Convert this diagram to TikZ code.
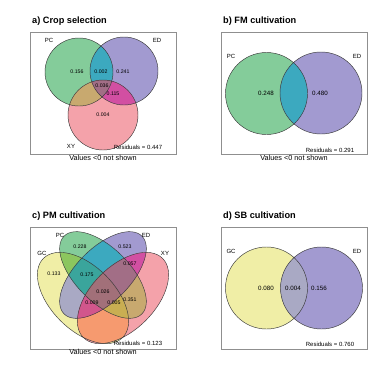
\documentclass[tikz,border=0pt]{standalone}
\usepackage{fontspec}
\setmainfont{Liberation Sans}
\usetikzlibrary{positioning}

\definecolor{pcgreen}{HTML}{84CC9A}
\definecolor{edpurple}{HTML}{A29AD0}
\definecolor{xypink}{HTML}{F4A2AA}
\definecolor{gcyellow}{HTML}{F0EEA6}
\definecolor{pcedteal}{HTML}{3CA9BF}
\definecolor{pcxytan}{HTML}{C8A96F}
\definecolor{edxymag}{HTML}{D24FA2}
\definecolor{pcedxymauve}{HTML}{A26E86}
\definecolor{gcedslate}{HTML}{A9A9C4}
\definecolor{gcpclime}{HTML}{8CC65E}
\definecolor{gcxyorange}{HTML}{F69A6F}
\definecolor{gcpcedteal}{HTML}{3AA59C}
\definecolor{gcpcxyolive}{HTML}{C9AE52}
\definecolor{gcedxypink}{HTML}{D2568C}
\definecolor{allfour}{HTML}{A27079}
\definecolor{boxgrey}{HTML}{8F8F8F}
\definecolor{rimgrey}{HTML}{3A3A3A}

% set shapes, one per panel
\newcommand\cropPC{(79,-72) circle [radius=34]}
\newcommand\cropED{(124,-71) circle [radius=34]}
\newcommand\cropXY{(103,-115) circle [radius=35]}
\newcommand\fmPC{(266.5,-93.5) circle [radius=41]}
\newcommand\fmED{(321,-93) circle [radius=41]}
\newcommand\pmGC{(83,-298) ellipse [x radius=56, y radius=32]}
\newcommand\pmPC{(103,-275) ellipse [x radius=55, y radius=27]}
\newcommand\pmED{(103,-275) ellipse [x radius=55, y radius=27]}
\newcommand\pmXY{(123,-298) ellipse [x radius=56, y radius=32]}
\newcommand\sbGC{(266.5,-288) circle [radius=41]}
\newcommand\sbED{(321.5,-288) circle [radius=41]}

\begin{document}
\begin{tikzpicture}[
				x=1pt, y=1pt,
				panelbox/.style={draw=boxgrey, line width=0.7pt},
				setrim/.style={draw=rimgrey, line width=0.45pt},
				gctilt/.style={rotate around={-45:(83,-298)}},
				pctilt/.style={rotate around={-45:(103,-275)}},
				edtilt/.style={rotate around={45:(103,-275)}},
				xytilt/.style={rotate around={45:(123,-298)}},
				paneltitle/.style={anchor=west, inner sep=0pt, font=\fontsize{9.2}{11}\selectfont\bfseries},
				setname/.style={inner sep=0pt, font=\fontsize{6}{7}\selectfont},
				smallval/.style={inner sep=0pt, font=\fontsize{5.2}{6}\selectfont},
				bigval/.style={inner sep=0pt, font=\fontsize{6.2}{7}\selectfont},
				resid/.style={inner sep=0pt, font=\fontsize{6}{7}\selectfont},
				note/.style={inner sep=0pt, font=\fontsize{7.3}{8}\selectfont},
			]
				\fill[white] (0,0) rectangle (382,-389);
				\useasboundingbox (0,0) rectangle (382,-389);

				% a) Crop selection
				\fill[pcgreen] \cropPC;
				\fill[edpurple] \cropED;
				\fill[xypink] \cropXY;
				\begin{scope}\clip \cropPC; \fill[pcedteal] \cropED; \end{scope}
				\begin{scope}\clip \cropPC; \fill[pcxytan] \cropXY; \end{scope}
				\begin{scope}\clip \cropED; \fill[edxymag] \cropXY; \end{scope}
				\begin{scope}\clip \cropPC; \clip \cropED; \fill[pcedxymauve] \cropXY; \end{scope}
				\draw[setrim] \cropPC \cropED \cropXY;
				\draw[panelbox] (30,-32) rectangle (176,-154);
				\node (aTitle) [paneltitle] at (32,-21) {a) Crop selection};
				\node (aPC) [setname] at (49,-40) {PC};
				\node (aED) [setname] at (157,-40) {ED};
				\node (aXY) [setname] at (71,-146) {XY};
				\node (aPConly) [smallval] at (77,-72) {0.156};
				\node (aPCED) [smallval] at (101,-72) {0.002};
				\node (aEDonly) [smallval] at (123,-72) {0.241};
				\node (aAll) [smallval] at (102,-86) {0.036};
				\node (aEDXY) [smallval] at (113,-94) {0.115};
				\node (aXYonly) [smallval] at (103,-115) {0.004};
				\node (aRes) [resid] at (138,-147) {Residuals = 0.447};
				\node (aNote) [note] at (103,-158) {Values <0 not shown};

				% b) FM cultivation
				\fill[pcgreen] \fmPC;
				\fill[edpurple] \fmED;
				\begin{scope}\clip \fmPC; \fill[pcedteal] \fmED; \end{scope}
				\draw[setrim] \fmPC \fmED;
				\draw[panelbox] (221,-32) rectangle (367,-154);
				\node (bTitle) [paneltitle] at (223,-21) {b) FM cultivation};
				\node (bPC) [setname] at (231,-56) {PC};
				\node (bED) [setname] at (357,-56) {ED};
				\node (bPConly) [bigval] at (266,-93) {0.248};
				\node (bEDonly) [bigval] at (320,-93) {0.480};
				\node (bRes) [resid] at (330,-150) {Residuals = 0.291};
				\node (bNote) [note] at (294,-158) {Values <0 not shown};

				% c) PM cultivation
				\fill[gcyellow, gctilt] \pmGC;
				\fill[pcgreen, pctilt] \pmPC;
				\fill[edpurple, edtilt] \pmED;
				\fill[xypink, xytilt] \pmXY;
				\begin{scope}\clip[gctilt] \pmGC; \fill[gcpclime, pctilt] \pmPC; \end{scope}
				\begin{scope}\clip[gctilt] \pmGC; \fill[gcedslate, edtilt] \pmED; \end{scope}
				\begin{scope}\clip[gctilt] \pmGC; \fill[gcxyorange, xytilt] \pmXY; \end{scope}
				\begin{scope}\clip[pctilt] \pmPC; \fill[pcedteal, edtilt] \pmED; \end{scope}
				\begin{scope}\clip[pctilt] \pmPC; \fill[pcxytan, xytilt] \pmXY; \end{scope}
				\begin{scope}\clip[edtilt] \pmED; \fill[edxymag, xytilt] \pmXY; \end{scope}
				\begin{scope}\clip[gctilt] \pmGC; \clip[pctilt] \pmPC; \fill[gcpcedteal, edtilt] \pmED; \end{scope}
				\begin{scope}\clip[gctilt] \pmGC; \clip[pctilt] \pmPC; \fill[gcpcxyolive, xytilt] \pmXY; \end{scope}
				\begin{scope}\clip[gctilt] \pmGC; \clip[edtilt] \pmED; \fill[gcedxypink, xytilt] \pmXY; \end{scope}
				\begin{scope}\clip[pctilt] \pmPC; \clip[edtilt] \pmED; \fill[pcedxymauve, xytilt] \pmXY; \end{scope}
				\begin{scope}\clip[gctilt] \pmGC; \clip[pctilt] \pmPC; \clip[edtilt] \pmED; \fill[allfour, xytilt] \pmXY; \end{scope}
				\draw[setrim, gctilt] \pmGC;
				\draw[setrim, pctilt] \pmPC;
				\draw[setrim, edtilt] \pmED;
				\draw[setrim, xytilt] \pmXY;
				\draw[panelbox] (30,-227) rectangle (176,-349);
				\node (cTitle) [paneltitle] at (32,-216) {c) PM cultivation};
				\node (cGC) [setname] at (42,-253) {GC};
				\node (cPC) [setname] at (60,-235) {PC};
				\node (cED) [setname] at (146,-235) {ED};
				\node (cXY) [setname] at (165,-253) {XY};
				\node (cPConly) [smallval] at (80,-247) {0.228};
				\node (cEDonly) [smallval] at (125,-247) {0.523};
				\node (cGConly) [smallval] at (54,-274) {0.133};
				\node (cGCPCED) [smallval] at (87,-275) {0.175};
				\node (cEDXY) [smallval] at (130,-264) {0.057};
				\node (cAll) [smallval] at (103,-292) {0.026};
				\node (cGCEDXY) [smallval] at (92,-303) {0.009};
				\node (cGCPCXY) [smallval] at (114,-303) {0.005};
				\node (cPCXY) [smallval] at (130,-300) {0.351};
				\node (cRes) [resid] at (138,-343) {Residuals = 0.123};
				\node (cNote) [note] at (103,-352) {Values <0 not shown};

				% d) SB cultivation
				\fill[gcyellow] \sbGC;
				\fill[edpurple] \sbED;
				\begin{scope}\clip \sbGC; \fill[gcedslate] \sbED; \end{scope}
				\draw[setrim] \sbGC \sbED;
				\draw[panelbox] (221,-227) rectangle (367,-349);
				\node (dTitle) [paneltitle] at (223,-216) {d) SB cultivation};
				\node (dGC) [setname] at (231,-251) {GC};
				\node (dED) [setname] at (357,-251) {ED};
				\node (dGConly) [bigval] at (266,-288) {0.080};
				\node (dGCED) [bigval] at (293,-288) {0.004};
				\node (dEDonly) [bigval] at (319,-288) {0.156};
				\node (dRes) [resid] at (330,-344) {Residuals = 0.760};
			\end{tikzpicture}
\end{document}
